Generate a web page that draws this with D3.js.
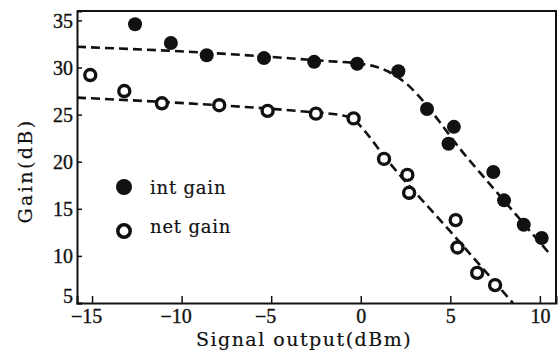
<!DOCTYPE html>
<html>
<head>
<meta charset="utf-8">
<script src="https://cdn.jsdelivr.net/npm/d3@7"></script>
<style>
  body { margin: 0; background: #fff; }
  svg text { font-family: "Liberation Serif", "DejaVu Serif", serif; fill: #111; stroke: #111; stroke-width: 0.35px; }
  svg text.wide { font-family: "DejaVu Serif", serif; stroke-width: 0.2px; }
</style>
</head>
<body>
<svg id="chart" width="560" height="356"></svg>
<script>
const intX = [-12.6, -10.6, -8.6, -5.4, -2.6, -0.2, 2.1, 3.7, 5.2, 4.9, 7.4, 8.0, 9.1, 10.1];
const intY = [34.6, 32.6, 31.3, 31.0, 30.6, 30.4, 29.6, 25.6, 23.7, 21.9, 18.9, 15.9, 13.3, 11.9];
const netX = [-15.1, -13.2, -11.1, -7.9, -5.2, -2.5, -0.4, 1.3, 2.6, 2.7, 5.3, 5.4, 6.5, 7.5];
const netY = [29.2, 27.5, 26.2, 26.0, 25.4, 25.1, 24.6, 20.3, 18.6, 16.7, 13.8, 10.9, 8.2, 6.9];

// dashed fit curves
const intFitX = [-15.84, -8, -2, 0, 0.8, 1.5, 2.2, 6, 10.6];
const intFitY = [32.2, 31.5, 30.7, 30.4, 30.1, 29.6, 28.8, 20.3, 10.1];
const netFitX = [-15.84, -8, -3, -1, -0.4, 0.2, 1.3, 5, 8.5];
const netFitY = [26.8, 26.0, 25.3, 24.9, 24.5, 23.3, 20.6, 12.6, 5.0];

const xTicks = [-15, -10, -5, 0, 5, 10];
const yTicks = [5, 10, 15, 20, 25, 30, 35];
const legendLabels = ["int gain", "net gain"];

const svg = d3.select("#chart");
const m = { left: 77, right: 556, top: 11, bottom: 303 };

const x = d3.scaleLinear().domain([-15.84, 10.9]).range([m.left, m.right]);
const y = d3.scaleLinear().domain([5, 36]).range([m.bottom, m.top]);

// frame (top + right)
svg.append("path")
  .attr("d", `M${m.left},${m.top}H${m.right}V${m.bottom}`)
  .attr("fill", "none").attr("stroke", "#111").attr("stroke-width", 2);

// axes
const xAxis = svg.append("g")
  .attr("transform", `translate(0,${m.bottom})`)
  .call(d3.axisBottom(x).tickValues(xTicks).tickSize(-7).tickPadding(6)
    .tickFormat(d => d < 0 ? "\u2212" + Math.abs(d) : d));
xAxis.attr("font-family", null);
xAxis.select(".domain").attr("stroke", "#111").attr("stroke-width", 2);
xAxis.selectAll(".tick line").attr("stroke", "#111").attr("stroke-width", 1.5);
xAxis.selectAll(".tick text")
  .style("font-size", "20px")
  .attr("dx", d => d < 0 ? "-6" : "0")
  .attr("dy", "0.72em");

const yAxis = svg.append("g")
  .attr("transform", `translate(${m.left},0)`)
  .call(d3.axisLeft(y).tickValues(yTicks).tickSize(-5).tickPadding(4));
yAxis.attr("font-family", null);
yAxis.select(".domain").attr("stroke", "#111").attr("stroke-width", 2);
yAxis.selectAll(".tick line").attr("stroke", "#111").attr("stroke-width", 1.5);
yAxis.selectAll(".tick text")
  .style("font-size", "20px")
  .attr("dy", d => d === 5 ? "-0.05em" : "0.35em");

// axis titles
svg.append("text")
  .attr("class", "wide")
  .attr("transform", "translate(32,171) rotate(-90)")
  .attr("text-anchor", "middle")
  .style("font-size", "19px")
  .style("letter-spacing", "2.4px")
  .text("Gain(dB)");
svg.append("text")
  .attr("class", "wide")
  .attr("x", 304).attr("y", 346)
  .attr("text-anchor", "middle")
  .style("font-size", "19px")
  .style("letter-spacing", "1.5px")
  .text("Signal output(dBm)");

// fit lines
const line = d3.line().x(d => x(d[0])).y(d => y(d[1])).curve(d3.curveMonotoneX);
[[intFitX, intFitY], [netFitX, netFitY]].forEach(([fx, fy]) => {
  svg.append("path")
    .datum(fx.map((v, i) => [v, fy[i]]))
    .attr("d", line)
    .attr("fill", "none")
    .attr("stroke", "#111")
    .attr("stroke-width", 2.6)
    .attr("stroke-dasharray", "9,5");
});

// points
svg.append("g").selectAll("circle")
  .data(intX.map((v, i) => [v, intY[i]]))
  .join("circle")
  .attr("cx", d => x(d[0])).attr("cy", d => y(d[1]))
  .attr("r", 7).attr("fill", "#111");

svg.append("g").selectAll("circle")
  .data(netX.map((v, i) => [v, netY[i]]))
  .join("circle")
  .attr("cx", d => x(d[0])).attr("cy", d => y(d[1]))
  .attr("r", 5.5).attr("fill", "#fff")
  .attr("stroke", "#111").attr("stroke-width", 3.4);

// legend
const legend = svg.append("g");
legend.append("circle").attr("cx", 124).attr("cy", 187).attr("r", 8).attr("fill", "#111");
legend.append("circle").attr("cx", 124).attr("cy", 231).attr("r", 6.2)
  .attr("fill", "#fff").attr("stroke", "#111").attr("stroke-width", 3.6);
legend.selectAll("text")
  .data(legendLabels)
  .join("text")
  .attr("class", "wide")
  .attr("x", 150).attr("y", (d, i) => 194 + i * 39)
  .style("font-size", "18px")
  .style("letter-spacing", "0.8px")
  .text(d => d);
</script>
</body>
</html>
